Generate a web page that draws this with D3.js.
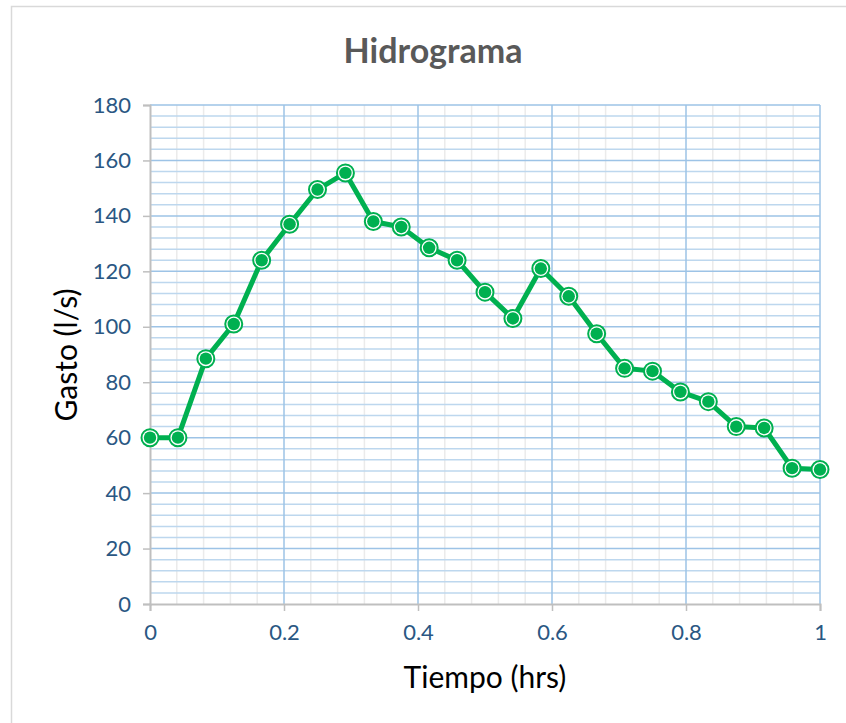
<!DOCTYPE html>
<html>
<head>
<meta charset="utf-8">
<script src="https://cdn.jsdelivr.net/npm/d3@7"></script>
<style>
  body { margin: 0; background: #fff; }
  svg text { font-family: Lato, "Open Sans", sans-serif; }
</style>
</head>
<body>
<div id="chart"></div>
<script>
// tiempo (hrs), one point every 2.5 min
var tiempo = [0, 1/24, 2/24, 3/24, 4/24, 5/24, 6/24, 7/24, 8/24, 9/24, 10/24, 11/24, 12/24,
              13/24, 14/24, 15/24, 16/24, 17/24, 18/24, 19/24, 20/24, 21/24, 22/24, 23/24, 1];
var gasto = [60, 60, 88.5, 101, 124, 137, 149.5, 155.5, 138, 136, 128.5, 124, 112.5,
             103, 121, 111, 97.5, 85, 84, 76.5, 73, 64, 63.5, 49, 48.5];
var xTicks = [0, 0.2, 0.4, 0.6, 0.8, 1];
var yTicks = [0, 20, 40, 60, 80, 100, 120, 140, 160, 180];

var W = 846, H = 723;
var margin = {top: 105, right: 26, bottom: 119, left: 150};
var width = W - margin.left - margin.right,
    height = H - margin.top - margin.bottom;

var svg = d3.select("#chart").append("svg")
    .attr("width", W)
    .attr("height", H);

// chart border
svg.append("rect")
    .attr("x", 11.5).attr("y", 6.5)
    .attr("width", 840).attr("height", 720)
    .style("fill", "none")
    .style("stroke", "#d9d9d9")
    .style("stroke-width", 1.5);

var g = svg.append("g")
    .attr("transform", "translate(" + margin.left + "," + margin.top + ")");

var x = d3.scaleLinear().domain([0, 1]).range([0, width]);
var y = d3.scaleLinear().domain([0, 180]).range([height, 0]);

// minor grid
g.append("g").selectAll("line")
    .data(d3.range(0.04, 1, 0.04).filter(d => Math.abs(d * 5 - Math.round(d * 5)) > 1e-6))
    .enter().append("line")
    .attr("x1", d => x(d)).attr("x2", d => x(d))
    .attr("y1", 0).attr("y2", height)
    .style("stroke", "#ebebeb").style("stroke-width", 1.5);

g.append("g").selectAll("line")
    .data(d3.range(4, 180, 4).filter(d => d % 20 !== 0))
    .enter().append("line")
    .attr("x1", 0).attr("x2", width)
    .attr("y1", d => y(d)).attr("y2", d => y(d))
    .style("stroke", "#bdd7ee").style("stroke-width", 1.5);

// major grid
g.append("g").selectAll("line")
    .data(yTicks.slice(1))
    .enter().append("line")
    .attr("x1", 0).attr("x2", width)
    .attr("y1", d => y(d)).attr("y2", d => y(d))
    .style("stroke", "#9dc3e6").style("stroke-width", 1.5);

g.append("g").selectAll("line")
    .data(xTicks.slice(1))
    .enter().append("line")
    .attr("x1", d => x(d)).attr("x2", d => x(d))
    .attr("y1", 0).attr("y2", height)
    .style("stroke", "#9dc3e6").style("stroke-width", 1.5);

// axes
var xAxis = g.append("g")
    .attr("transform", "translate(0," + height + ")")
    .call(d3.axisBottom(x).tickValues(xTicks).tickFormat(d3.format("")).tickSize(7).tickPadding(13));
var yAxis = g.append("g")
    .call(d3.axisLeft(y).tickValues(yTicks).tickSize(7).tickPadding(12));

[xAxis, yAxis].forEach(a => {
    a.select(".domain").style("stroke", "#bfbfbf").style("stroke-width", 2);
    a.selectAll(".tick line").style("stroke", "#bfbfbf").style("stroke-width", 1.5);
    a.selectAll("text").style("fill", "#2a5783").style("font-size", "22px");
});

// line
var line = d3.line()
    .x((d, i) => x(tiempo[i]))
    .y(d => y(d));

g.append("path")
    .datum(gasto)
    .attr("d", line)
    .style("fill", "none")
    .style("stroke", "#00b050")
    .style("stroke-width", 5)
    .style("stroke-linejoin", "round");

// markers
var pts = g.selectAll(".dot")
    .data(gasto)
    .enter().append("g")
    .attr("class", "dot")
    .attr("transform", (d, i) => "translate(" + x(tiempo[i]) + "," + y(d) + ")");
pts.append("circle").attr("r", 8.5)
    .style("fill", "#fff").style("stroke", "#00b050").style("stroke-width", 2);
pts.append("circle").attr("r", 6.2)
    .style("fill", "#00b050");

// titles
svg.append("text")
    .attr("x", 433).attr("y", 63)
    .attr("text-anchor", "middle")
    .style("font-size", "34px").style("font-weight", "bold").style("fill", "#595959")
    .text("Hidrograma");

svg.append("text")
    .attr("x", 485).attr("y", 688)
    .attr("text-anchor", "middle")
    .style("font-size", "30px").style("fill", "#000")
    .text("Tiempo (hrs)");

svg.append("text")
    .attr("transform", "translate(77,355) rotate(-90)")
    .attr("text-anchor", "middle")
    .style("font-size", "30px").style("fill", "#000")
    .text("Gasto (l/s)");
</script>
</body>
</html>
